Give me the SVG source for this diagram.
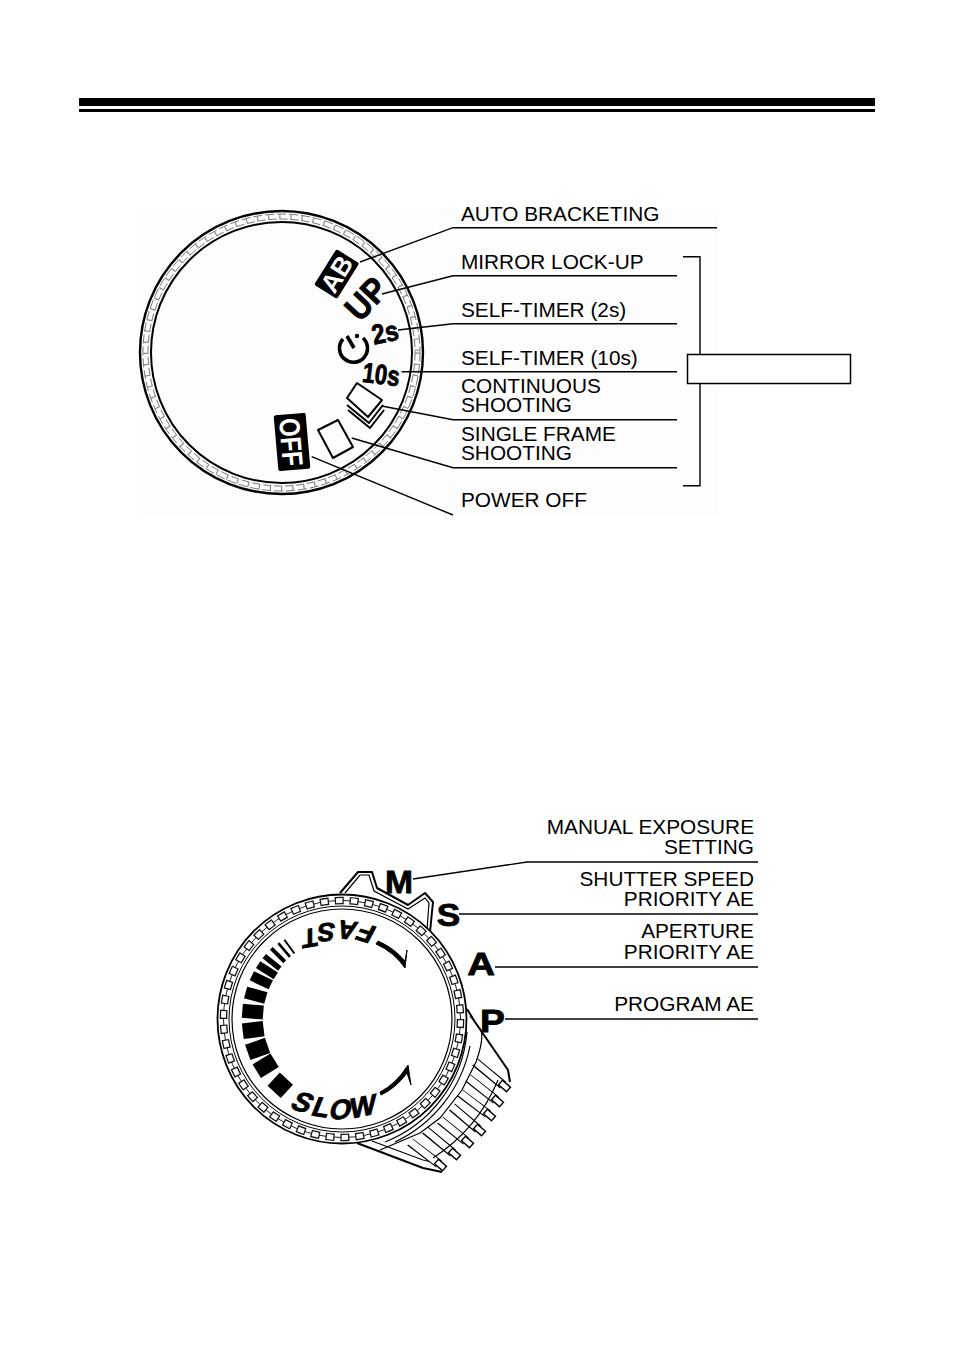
<svg xmlns="http://www.w3.org/2000/svg" width="954" height="1351" viewBox="0 0 954 1351">
<style>
.l{font-family:"Liberation Sans",Arial,sans-serif;font-size:20.8px;fill:#000}
.e{text-anchor:end}
.b{font-family:"Liberation Sans",Arial,sans-serif;font-weight:bold;fill:#000;text-anchor:middle}
.h{stroke:#000;stroke-width:.8}
.w{fill:#fff}
.k{fill:none;stroke:#000;stroke-width:1.2}
.t{fill:none;stroke:#000;stroke-width:2;stroke-linejoin:round}
.rb{fill:none;stroke:#000;stroke-width:9}
.rw{fill:none;stroke:#fff;stroke-width:6.8}
.tb{fill:none;stroke:#000;stroke-width:7.500}
.tw{fill:none;stroke:#fff;stroke-width:4.500}
</style>
<rect width="954" height="1351" fill="#fff"/>
<rect x="140" y="210" width="578" height="305" fill="#fdfdfd"/>
<g id="header"><rect x="79" y="98" width="796" height="8" fill="#000"/><rect x="79" y="109" width="796" height="3" fill="#000"/></g>

<g id="drive-dial">
<circle cx="281.500" cy="352.500" r="141.500" fill="none" stroke="#000" stroke-width="2.400"/>
<circle cx="281.500" cy="352.500" r="130.500" fill="none" stroke="#000" stroke-width="2"/>
<circle cx="281.500" cy="352.500" r="133.500" fill="none" stroke="#777" stroke-width="1" stroke-dasharray="8 3"/>
<circle cx="281.500" cy="352.500" r="138.500" fill="none" stroke="#777" stroke-width="1" stroke-dasharray="9 3"/>
<circle cx="281.500" cy="352.500" r="136" fill="none" stroke="#888" stroke-width="5" stroke-dasharray="1.200 10"/>
<g transform="translate(336.700,274) rotate(-58)"><rect x="-21" y="-13.500" width="42" height="27" rx="2" fill="#000"/><text class="b w" x="0" y="9" font-size="26" style="fill:#fff">AB</text></g>
<text class="b h" font-size="35" transform="translate(375,307) rotate(-47) scale(.9,1)">UP</text>
<text class="b h" font-size="28" transform="translate(387,342) rotate(-12) scale(.85,1)">2s</text>
<text class="b h" font-size="28" transform="translate(380,384) rotate(7) scale(.8,1)">10s</text>
<path d="M343 339A14 14 0 1 0 363 338" fill="none" stroke="#000" stroke-width="3.600"/><path d="M347 336L354 348" stroke="#000" stroke-width="3.600"/><circle cx="357" cy="336" r="2.200" fill="#000"/>
<path class="t" d="M357 383L382 400L368 417L347 398Z"/>
<path class="t" d="M347 405L369 423L383 405M348 410L370 428L384 410"/>
<path class="t" d="M318 430L338 420L353 447L333 458Z"/>
<g transform="translate(292,442) rotate(85)"><rect x="-28" y="-16" width="56" height="32" rx="2" fill="#000"/><text class="b w" x="0" y="11" font-size="29" style="fill:#fff" textLength="48" lengthAdjust="spacingAndGlyphs">OFF</text></g>
</g>

<g id="connectors" fill="none" stroke="#000" stroke-width="1.400">
<path d="M360 262L453 227.700H717"/>
<path d="M382 294L453 275.700H677"/>
<path d="M398 330L453 323.700H677"/>
<path d="M401.700 371.700H677"/>
<path d="M381.700 406L453 419.700H677"/>
<path d="M351.700 438L453 467.700H677"/>
<path d="M311.700 456.700L453 515"/>
<path d="M683 256.700H700V485.700H683"/>
<path d="M413 879L527 862H758"/>
<path d="M459 914H758"/>
<path d="M495 967H758"/>
<path d="M505 1019H758"/>
</g>

<g id="labels">
<text class="l" x="461" y="221">AUTO BRACKETING</text>
<text class="l" x="461" y="269">MIRROR LOCK-UP</text>
<text class="l" x="461" y="317">SELF-TIMER (2s)</text>
<text class="l" x="461" y="365">SELF-TIMER (10s)</text>
<text class="l" x="461" y="393">CONTINUOUS<tspan x="461" dy="18.500">SHOOTING</tspan></text>
<text class="l" x="461" y="441">SINGLE FRAME<tspan x="461" dy="18.500">SHOOTING</tspan></text>
<text class="l" x="461" y="507">POWER OFF</text>
<text class="l e" x="754" y="834">MANUAL EXPOSURE<tspan x="754" dy="20">SETTING</tspan></text>
<text class="l e" x="754" y="886">SHUTTER SPEED<tspan x="754" dy="20">PRIORITY AE</tspan></text>
<text class="l e" x="754" y="938">APERTURE<tspan x="754" dy="21">PRIORITY AE</tspan></text>
<text class="l e" x="754" y="1011">PROGRAM AE</text>
</g>
<g id="bracket-box"><rect x="687.500" y="354.500" width="163" height="29" fill="#fff" stroke="#000" stroke-width="1.500"/></g>

<g id="mode-dial">
<path class="t" d="M340 893L358 872L372 872L377 888L408 905L425 893L433 902L430 932" fill="#fff"/>
<path class="k" d="M345 893L360 875L369 875L374 891L408 909L425 898L429 903L427 930"/>
<path class="t" d="M467 1009L475 1022L508 1070L510 1082M357 1143L423 1168L442 1172"/>
<path class="k" d="M372 1141L423 1160L440 1164"/>
<path class="rb" d="M475 1062L503 1085M468 1078L496 1100M460 1093L488 1114M452 1107L478 1129M440 1120L466 1141M425 1130L453 1153M410 1142L439 1164"/>
<path class="rw" d="M473 1060L503 1085M466 1076L496 1100M458 1091L488 1114M450 1105L478 1129M438 1118L466 1141M423 1128L453 1153M408 1140L439 1164"/>
<path class="tb" d="M500 1082L509 1090M493 1097L502 1105M485 1111L494 1119M475 1126L484 1134M463 1138L472 1146M450 1150L459 1158M436 1161L445 1169"/>
<path class="tw" d="M501 1083L508 1089M494 1098L501 1104M486 1112L493 1118M476 1127L483 1133M464 1139L471 1145M451 1151L458 1157M437 1162L444 1168"/>
<path class="k" d="M498 1080A172 172 0 0 1 433 1158"/>
<path class="k" d="M470 1016L481 1030Q484 1040 476 1062L462 1090L440 1118L420 1133L380 1150"/>
<path class="k" d="M467 1032A130 130 0 0 1 385 1142"/>
<path class="k" d="M470 1046A135 135 0 0 1 395 1142"/>
<circle cx="342" cy="1019" r="124.500" fill="#fff" stroke="#000" stroke-width="1.800"/>
<circle cx="342" cy="1019" r="110" fill="none" stroke="#000" stroke-width="1.200"/>
<circle cx="342" cy="1019" r="113" fill="none" stroke="#000" stroke-width="1"/>
<circle cx="342" cy="1019" r="118.500" fill="none" stroke="#222" stroke-width="1"/>
<circle cx="342" cy="1019" r="118.500" fill="none" stroke="#111" stroke-width="7.500" stroke-dasharray="9 5.890"/>
<circle cx="342" cy="1019" r="118.500" fill="none" stroke="#fff" stroke-width="5" stroke-dasharray="6.500 8.390" stroke-dashoffset="-1.250"/>
<g fill="#000">
<rect x="-99.500" y="-9" width="18" height="18" transform="translate(342,1019) rotate(-47)"/>
<rect x="-100" y="-8" width="21" height="16" transform="translate(342,1019) rotate(-31.500)"/>
<rect x="-100" y="-8" width="21" height="16" transform="translate(342,1019) rotate(-19.500)"/>
<rect x="-100" y="-7.800" width="21" height="15.600" transform="translate(342,1019) rotate(-7)"/>
<rect x="-100" y="-7" width="21" height="14" transform="translate(342,1019) rotate(4.700)"/>
<rect x="-100" y="-6" width="21" height="12" transform="translate(342,1019) rotate(15.400)"/>
<rect x="-100" y="-5" width="21" height="10" transform="translate(342,1019) rotate(25.600)"/>
<rect x="-100" y="-4" width="21" height="8" transform="translate(342,1019) rotate(33)"/>
<rect x="-100" y="-2.800" width="20" height="5.600" transform="translate(342,1019) rotate(39)"/>
<rect x="-100" y="-2" width="19" height="4" transform="translate(342,1019) rotate(45)"/>
<rect x="-99" y="-1.300" width="18" height="2.600" transform="translate(342,1019) rotate(50)"/>
<rect x="-98" y="-1" width="17" height="2" transform="translate(342,1019) rotate(54)"/>
</g>
<text class="b h" font-size="28" transform="translate(303,1102) rotate(18) skewX(-14)" dy="10">S</text>
<text class="b h" font-size="28" transform="translate(322,1107) rotate(8) skewX(-14)" dy="10">L</text>
<text class="b h" font-size="28" transform="translate(341,1109) rotate(-2) skewX(-14)" dy="10">O</text>
<text class="b h" font-size="28" transform="translate(363,1106) rotate(-12) skewX(-14)" dy="10">W</text>
<text class="b h" font-size="26" transform="translate(310,938) rotate(170) skewX(-10)" dy="9">T</text>
<text class="b h" font-size="26" transform="translate(326,932) rotate(178) skewX(-10)" dy="9">S</text>
<text class="b h" font-size="26" transform="translate(347,930) rotate(187) skewX(-10)" dy="9">A</text>
<text class="b h" font-size="26" transform="translate(366,933) rotate(198) skewX(-10)" dy="9">F</text>
<path d="M376 944Q394 952 405 968L407 950L405 961Q394 948 378 941Z" fill="#000" stroke="#000" stroke-width="1"/>
<path d="M380 1092Q396 1084 408 1065L411 1085L407 1073Q396 1088 381 1095Z" fill="#000" stroke="#000" stroke-width="1"/>
<text class="b h" font-size="32" transform="translate(399,893) scale(1.05,1)">M</text>
<text class="b h" font-size="32" transform="translate(448.500,926) scale(1.1,1)">S</text>
<text class="b h" font-size="32" transform="translate(481,975) scale(1.2,1)">A</text>
<text class="b h" font-size="31" transform="translate(492.500,1032) scale(1.2,1)">P</text>
</g>
</svg>
